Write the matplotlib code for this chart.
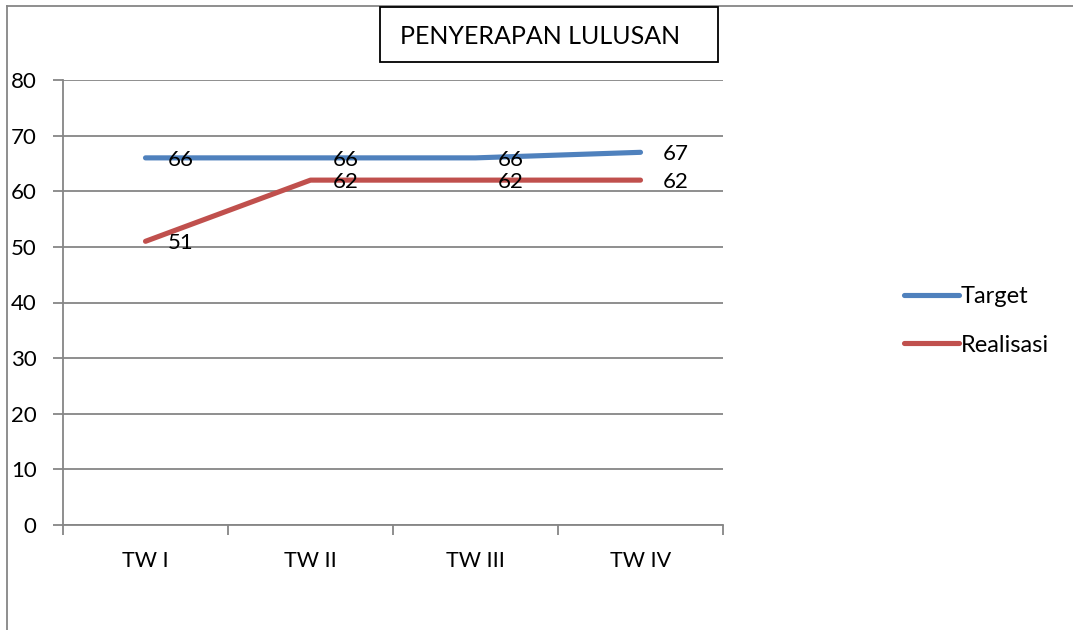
import matplotlib
matplotlib.use("Agg")
import matplotlib.pyplot as plt
from matplotlib.lines import Line2D
from matplotlib.patches import Rectangle

categories = ["TW I", "TW II", "TW III", "TW IV"]
target = [66, 66, 66, 67]
realisasi = [51, 62, 62, 62]
yticks = [0, 10, 20, 30, 40, 50, 60, 70, 80]
title = "PENYERAPAN LULUSAN"

plt.rcParams['font.family'] = ['Lato', 'DejaVu Sans']
W, H = 1073, 630
fig = plt.figure(figsize=(W / 100, H / 100), dpi=100)

def fx(px):
    return px / W

def fy(py):
    return 1 - py / H

ax = fig.add_axes([fx(63), fy(525), fx(723) - fx(63), fy(80) - fy(525)])
blue = "#4F81BD"
red = "#C0504D"
grid = "#868686"

xs = [i + 0.5 for i in range(len(categories))]
ax.plot(xs, target, color=blue, lw=3.7, solid_capstyle="round", label="Target", zorder=3)
ax.plot(xs, realisasi, color=red, lw=3.7, solid_capstyle="round", label="Realisasi", zorder=3)

for x, v in zip(xs, target):
    ax.annotate(str(v), (x, v), xytext=(16, -1.5), textcoords="offset points",
                ha="left", va="center", fontsize=16, color="black", zorder=4)
for x, v in zip(xs, realisasi):
    ax.annotate(str(v), (x, v), xytext=(16, -1.5), textcoords="offset points",
                ha="left", va="center", fontsize=16, color="black", zorder=4)

ax.set_xlim(0, len(categories))
ax.set_ylim(0, 80)
ax.set_yticks(yticks)
ax.set_yticklabels([str(t) for t in yticks], fontsize=16)
ax.set_xticks([0, 1, 2, 3, 4])
ax.set_xticklabels([])
ax.set_xticks(xs, minor=True)
ax.set_xticklabels(categories, minor=True, fontsize=15.5)
ax.tick_params(axis="x", which="minor", length=0, pad=19)
ax.tick_params(axis="x", which="major", length=7, width=1.3, color=grid, direction="out")
ax.tick_params(axis="y", length=7, width=1.3, color=grid, direction="out", pad=12)
for y in yticks:
    ax.axhline(y, color=grid, lw=1.3, zorder=1)
for s in ["top", "right"]:
    ax.spines[s].set_visible(False)
for s in ["left", "bottom"]:
    ax.spines[s].set_color(grid)
    ax.spines[s].set_linewidth(1.3)

# outer chart frame (partial)
fig.add_artist(Line2D([fx(7), 1], [fy(6), fy(6)], color=grid, lw=1.3))
fig.add_artist(Line2D([fx(7), fx(7)], [fy(6), 0], color=grid, lw=1.3))

# title box
fig.add_artist(Rectangle((fx(380), fy(62)), fx(718) - fx(380), fy(7) - fy(62),
                         facecolor="white", edgecolor="black", lw=1.3, zorder=5))
fig.text(fx(400), fy(36), title, fontsize=18, ha="left", va="center", zorder=6)

leg = fig.legend(loc="center left", bbox_to_anchor=(fx(883), fy(321)), frameon=False,
                 fontsize=17, handlelength=2.3, handletextpad=0.1, labelspacing=1.15)
for lh in leg.get_lines():
    lh.set_linewidth(3.7)

fig.savefig("out.png", dpi=100)
